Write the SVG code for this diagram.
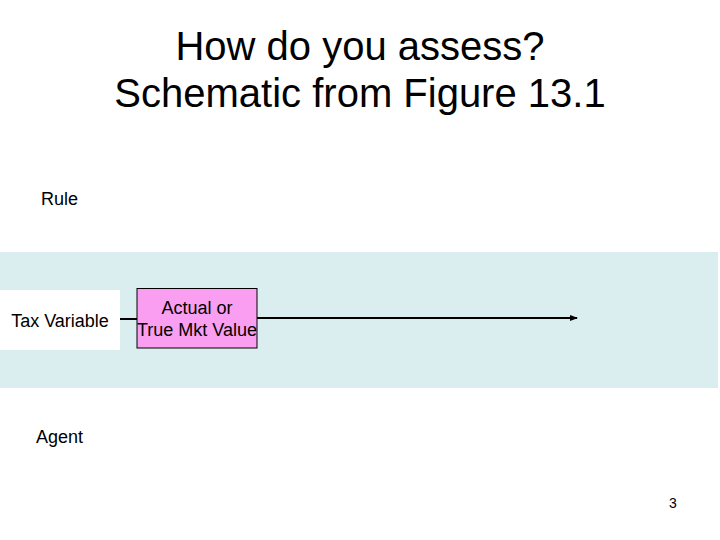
<svg xmlns="http://www.w3.org/2000/svg" width="720" height="540" viewBox="0 0 720 540">
<style>
text{font-family:"Liberation Sans",Arial,sans-serif;fill:#000}
.t{font-size:40px;text-anchor:middle}
.l{font-size:18px}
.c{font-size:18px;text-anchor:middle}
</style>
<defs>
<marker id="ah" markerWidth="8" markerHeight="8" refX="7" refY="4" orient="auto" markerUnits="userSpaceOnUse">
<path d="M0,1 L8,4 L0,7 Z" fill="#000"/>
</marker>
</defs>
<rect width="720" height="540" fill="#fff"/>
<text class="t" x="360" y="60">How do you assess?</text>
<text class="t" x="360" y="107">Schematic from Figure 13.1</text>
<text class="l" x="41" y="205">Rule</text>
<rect x="0" y="252" width="718" height="136" fill="#daeef0"/>
<text class="l" x="36" y="443">Agent</text>
<g id="connectors" stroke="#000" stroke-width="2" fill="none">
<line x1="120" y1="319" x2="137" y2="319"/>
<line x1="257" y1="318" x2="577" y2="318" marker-end="url(#ah)"/>
</g>
<g id="tax-variable">
<rect x="0" y="290" width="120" height="60" fill="#fff"/>
<text class="c" x="60" y="327">Tax Variable</text>
</g>
<g id="true-mkt-value">
<rect x="137" y="288.5" width="120" height="59.5" fill="#f99ef0" stroke="#000" stroke-width="1"/>
<text class="c" x="197" y="314">Actual or</text>
<text class="c" x="197" y="336">True Mkt Value</text>
</g>
<text x="673" y="508" font-size="14" text-anchor="middle">3</text>
</svg>
